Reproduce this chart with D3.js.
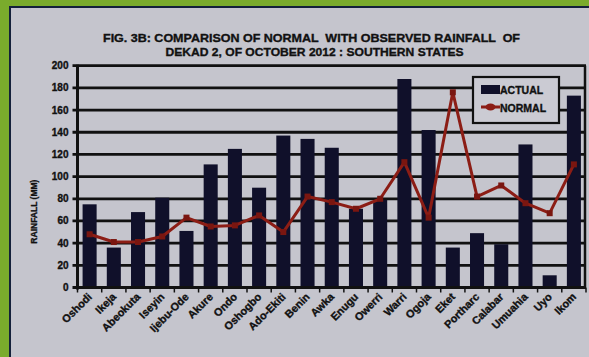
<!DOCTYPE html>
<html>
<head>
<meta charset="utf-8">
<script src="https://cdn.jsdelivr.net/npm/d3@7/dist/d3.min.js"></script>
<style>
  html, body { margin: 0; padding: 0; background: #7aab2c; }
  svg { display: block; }
  text { font-family: "Liberation Sans", Arial, sans-serif; font-weight: bold; fill: #111;
         stroke: #111; stroke-width: 0.35px; white-space: pre; }
</style>
</head>
<body>
<svg id="chart" width="589" height="357"></svg>
<script>
// Dekad 2, October 2012 rainfall (mm) for southern stations
const stations = ["Oshodi", "Ikeja", "Abeokuta", "Iseyin", "Ijebu-Ode", "Akure", "Ondo",
  "Oshogbo", "Ado-Ekiti", "Benin", "Awka", "Enugu", "Owerri", "Warri", "Ogoja", "Eket",
  "Portharc", "Calabar", "Umuahia", "Uyo", "Ikom"];
const actual = [75, 36, 68, 81, 51, 111, 125, 90, 137, 134, 126, 71, 79, 188, 142, 36,
  49, 39, 129, 11, 173];
const normal = [48, 41, 41, 46, 63, 55, 56, 65, 50, 82, 77, 71, 80, 113, 63, 176,
  82, 92, 76, 67, 111];
const yTicks = [0, 20, 40, 60, 80, 100, 120, 140, 160, 180, 200];
const titleLines = ["FIG. 3B: COMPARISON OF NORMAL  WITH OBSERVED RAINFALL  OF",
  "DEKAD 2, OF OCTOBER 2012 : SOUTHERN STATES"];
const legendItems = ["ACTUAL", "NORMAL"];

const svg = d3.select("#chart");
const W = 589, H = 357;
const barColor = "#10102a", lineColor = "#8c1d15", ink = "#111";

// slide panel
svg.append("rect").attr("x", 0).attr("y", 0).attr("width", W).attr("height", H).attr("fill", "#7aab2c");
svg.append("rect").attr("x", 10).attr("y", 7).attr("width", W - 9).attr("height", H - 6)
  .attr("fill", "#c5c5cd").attr("stroke", "#14203a").attr("stroke-width", 2);

const plot = { left: 77.5, right: 586, top: 65.7, bottom: 287.5 };

const x = d3.scaleBand().domain(stations).range([plot.left, plot.right])
  .paddingInner(0.42).paddingOuter(0.21);
const y = d3.scaleLinear().domain([0, 200]).range([plot.bottom, plot.top]);

// title
const titleWidths = [417, 298];
svg.selectAll("text.title").data(titleLines).join("text")
  .attr("class", "title")
  .attr("x", (d, i) => i === 0 ? 311.5 : 314.5).attr("y", (d, i) => 42 + i * 14)
  .attr("text-anchor", "middle").attr("font-size", 11.5)
  .attr("textLength", (d, i) => titleWidths[i]).attr("lengthAdjust", "spacingAndGlyphs")
  .text(d => d);

// horizontal grid
svg.append("g").selectAll("line").data(yTicks.filter(t => t > 0)).join("line")
  .attr("x1", plot.left - 5).attr("x2", plot.right)
  .attr("y1", d => y(d)).attr("y2", d => y(d))
  .attr("stroke", ink).attr("stroke-width", 2.8);

// y tick labels
svg.append("g").selectAll("text").data(yTicks).join("text")
  .attr("x", plot.left - 9).attr("y", d => y(d) + 3.5)
  .attr("text-anchor", "end").attr("font-size", 10)
  .text(d => d);

// y axis title
svg.append("text")
  .attr("transform", `translate(37,${(plot.top + plot.bottom) / 2 + 35}) rotate(-90)`)
  .attr("text-anchor", "middle").attr("font-size", 8.5)
  .text("RAINFALL (MM)");

// bars
svg.append("g").selectAll("rect").data(stations).join("rect")
  .attr("x", d => x(d)).attr("width", x.bandwidth())
  .attr("y", (d, i) => y(actual[i]))
  .attr("height", (d, i) => y(0) - y(actual[i]))
  .attr("fill", barColor);

// plot frame: y axis, right edge, baseline
svg.append("line").attr("x1", plot.left).attr("x2", plot.left)
  .attr("y1", plot.top - 1).attr("y2", plot.bottom + 2).attr("stroke", ink).attr("stroke-width", 3);
svg.append("line").attr("x1", plot.right - 1).attr("x2", plot.right - 1)
  .attr("y1", plot.top).attr("y2", plot.bottom).attr("stroke", ink).attr("stroke-width", 2.5);
svg.append("line").attr("x1", plot.left - 5).attr("x2", plot.right)
  .attr("y1", plot.bottom).attr("y2", plot.bottom).attr("stroke", ink).attr("stroke-width", 3);

// category tick marks
const step = x.step();
svg.append("g").selectAll("line").data(d3.range(stations.length + 1)).join("line")
  .attr("x1", i => plot.left + i * step).attr("x2", i => plot.left + i * step)
  .attr("y1", plot.bottom).attr("y2", plot.bottom + 5)
  .attr("stroke", ink).attr("stroke-width", 1.5);

// normal rainfall line
const cx = d => x(d) + x.bandwidth() / 2;
const line = d3.line().x((d, i) => cx(stations[i])).y(d => y(d));
svg.append("path").datum(normal).attr("d", line)
  .attr("fill", "none").attr("stroke", lineColor).attr("stroke-width", 3)
  .attr("stroke-linejoin", "round");
svg.append("g").selectAll("rect").data(normal).join("rect")
  .attr("x", (d, i) => cx(stations[i]) - 3).attr("y", d => y(d) - 3)
  .attr("width", 6).attr("height", 6).attr("fill", "#7a1610");

// category labels
svg.append("g").selectAll("text").data(stations).join("text")
  .attr("transform", d => `translate(${cx(d) + 3},${plot.bottom + 10}) rotate(-45)`)
  .attr("text-anchor", "end").attr("font-size", 10.8)
  .text(d => d);

// legend
const lg = svg.append("g").attr("transform", "translate(473,77)");
lg.append("rect").attr("width", 86).attr("height", 46)
  .attr("fill", "#cbcbd3").attr("stroke", ink).attr("stroke-width", 2.2);
lg.append("rect").attr("x", 8).attr("y", 8).attr("width", 19).attr("height", 9).attr("fill", barColor);
lg.append("line").attr("x1", 8).attr("x2", 27).attr("y1", 30).attr("y2", 30)
  .attr("stroke", lineColor).attr("stroke-width", 3);
lg.append("ellipse").attr("cx", 17.5).attr("cy", 30).attr("rx", 5).attr("ry", 3.5).attr("fill", lineColor);
lg.selectAll("text").data(legendItems).join("text")
  .attr("x", 27).attr("y", (d, i) => 17 + i * 17.5)
  .attr("font-size", 10.5).text(d => d);
</script>
</body>
</html>
